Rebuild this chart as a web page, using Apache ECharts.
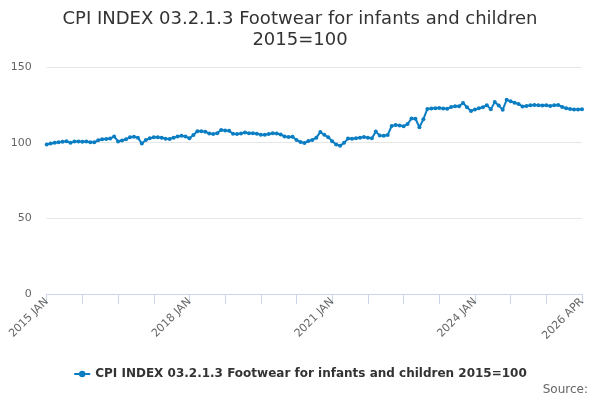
<!DOCTYPE html>
<html>
<head>
<meta charset="utf-8">
<script src="https://cdn.jsdelivr.net/npm/echarts@6/dist/echarts.min.js"></script>
<style>html,body{margin:0;padding:0;background:#fff}#c{width:600px;height:400px}</style>
</head>
<body>
<div id="c"></div>
<script>
var seriesName = 'CPI INDEX 03.2.1.3 Footwear for infants and children 2015=100';
var monthNames = ['JAN','FEB','MAR','APR','MAY','JUN','JUL','AUG','SEP','OCT','NOV','DEC'];
var startYear = 2015;
var values = [
  98.8, 99.4, 99.9, 100.3, 100.6, 100.9, 99.9, 100.7, 100.8, 100.6, 100.8, 100.3,
  100.2, 101.6, 102.3, 102.4, 102.7, 104.1, 100.8, 101.4, 102.3, 103.5, 103.9, 103.3,
  99.4, 101.7, 102.9, 103.5, 103.6, 103.3, 102.6, 102.4, 103.3, 104.0, 104.6, 104.0,
  102.9, 105.1, 107.5, 107.6, 107.2, 106.1, 105.7, 106.3, 108.4, 108.0, 107.8, 105.9,
  105.7, 106.1, 106.7, 106.3, 106.2, 105.9, 105.3, 105.2, 105.7, 106.2, 106.0, 105.4,
  104.1, 103.7, 103.9, 101.8, 100.4, 99.8, 101.1, 101.8, 103.3, 107.0, 105.2, 103.6,
  101.0, 98.8, 98.0, 99.9, 102.7, 102.6, 102.9, 103.3, 103.8, 103.3, 102.9, 107.3,
  104.8, 104.6, 105.1, 111.0, 111.6, 111.4, 110.9, 112.3, 116.0, 115.8, 110.2, 115.5,
  122.3, 122.5, 122.8, 122.9, 122.5, 122.4, 123.5, 124.0, 124.0, 126.2, 123.4, 120.9,
  121.9, 122.7, 123.4, 124.8, 122.0, 126.8, 124.5, 121.8, 128.3, 127.3, 126.3, 125.6,
  123.9, 124.3, 124.7, 124.9, 124.7, 124.5, 124.7, 124.3, 124.7, 124.9, 123.6, 122.8,
  122.3, 121.9, 121.9, 122.1
];
var yTicks = [0, 50, 100, 150];
var titleLines = ['CPI INDEX 03.2.1.3 Footwear for infants and children', '2015=100'];
var sourceText = 'Source:';

var categories = [];
for (var k = 0; k < values.length; k++) {
  var yr = startYear + Math.floor(k / 12);
  categories.push(yr + ' ' + monthNames[k % 12]);
}
var lastIdx = categories.length - 1;
var font = 'DejaVu Sans';

var chart = echarts.init(document.getElementById('c'), null, {renderer: 'canvas'});
chart.setOption({
  animation: false,
  backgroundColor: '#ffffff',
  textStyle: {fontFamily: font},
  title: {
    text: titleLines.join('\n'),
    left: 'center',
    top: 4,
    textStyle: {fontFamily: font, fontSize: 18, fontWeight: 'normal', color: '#333333', lineHeight: 21}
  },
  grid: {left: 46.7, right: 18, top: 67, bottom: 106, containLabel: false},
  xAxis: {
    type: 'category',
    data: categories,
    boundaryGap: false,
    axisLine: {lineStyle: {color: '#ccd6eb', width: 1}},
    axisTick: {
      show: true, length: 10, lineStyle: {color: '#ccd6eb'},
      interval: function (i) { return i % 9 === 0; }
    },
    axisLabel: {
      rotate: 45, margin: 6, color: '#666666', fontSize: 11, fontFamily: font,
      interval: function (i) { return i % 36 === 0 || i === lastIdx; }
    },
    splitLine: {show: false}
  },
  yAxis: {
    type: 'value',
    min: yTicks[0], max: yTicks[yTicks.length - 1], interval: 50,
    axisLine: {show: false},
    axisTick: {show: false},
    axisLabel: {color: '#666666', fontSize: 11, fontFamily: font, margin: 15},
    splitLine: {lineStyle: {color: '#e6e6e6', width: 1}}
  },
  legend: {
    bottom: 15,
    left: 'center',
    itemWidth: 16, itemHeight: 8,
    textStyle: {fontFamily: font, fontSize: 12, fontWeight: 'bold', color: '#333333'},
    data: [seriesName]
  },
  graphic: [{
    type: 'text', right: 12, bottom: 4,
    style: {text: sourceText, fontFamily: font, fontSize: 12, fill: '#666666'}
  }],
  series: [{
    name: seriesName,
    type: 'line',
    data: values,
    symbol: 'circle',
    symbolSize: 4,
    showSymbol: true,
    showAllSymbol: true,
    lineStyle: {color: '#0b7ec3', width: 2},
    itemStyle: {color: '#0b7ec3'}
  }]
});
</script>
</body>
</html>
